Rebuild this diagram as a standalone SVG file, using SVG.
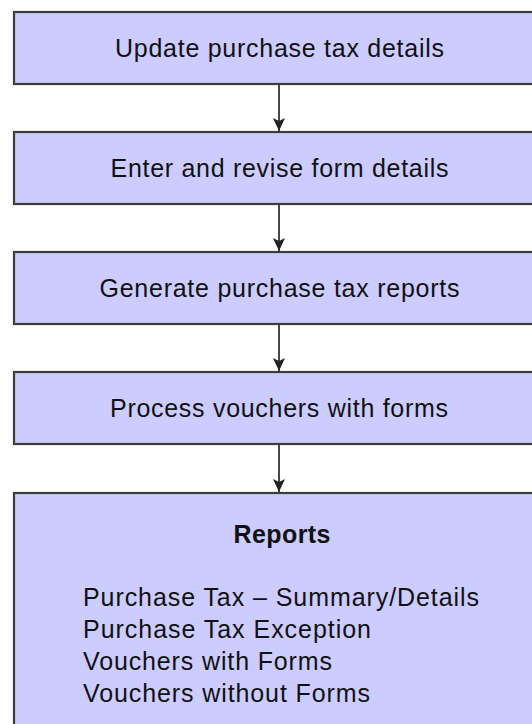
<svg xmlns="http://www.w3.org/2000/svg" width="532" height="724" viewBox="0 0 532 724">
  <style>
    .box { fill: #ccccff; stroke: #3c3c3c; stroke-width: 2.2; }
    .lbl { font-family: "Liberation Sans", Arial, sans-serif; font-size: 25px; fill: #111; }
    .mid { text-anchor: middle; }
    .bold { font-weight: bold; }
    .conn { stroke: #333; stroke-width: 1.8; fill: none; marker-end: url(#head); }
  </style>
  <defs>
    <marker id="head" viewBox="0 0 13 12" refX="13" refY="6" markerWidth="13" markerHeight="12" markerUnits="userSpaceOnUse" orient="auto">
      <path d="M0,0 L13,6 L0,12 L3,6 z" fill="#222"/>
    </marker>
  </defs>
  <rect width="532" height="724" fill="#ffffff"/>

  <g id="connectors">
    <line class="conn" x1="279" y1="84" x2="279" y2="131"/>
    <line class="conn" x1="279" y1="204" x2="279" y2="251"/>
    <line class="conn" x1="279" y1="324" x2="279" y2="371"/>
    <line class="conn" x1="279" y1="444" x2="279" y2="492"/>
  </g>

  <g id="update-details">
    <rect class="box" x="14" y="12" width="540" height="72"/>
    <text class="lbl mid" x="279.5" y="57" textLength="329" lengthAdjust="spacing">Update purchase tax details</text>
  </g>

  <g id="enter-form-details">
    <rect class="box" x="14" y="132" width="540" height="72"/>
    <text class="lbl mid" x="279.5" y="177" textLength="338" lengthAdjust="spacing">Enter and revise form details</text>
  </g>

  <g id="generate-reports">
    <rect class="box" x="14" y="252" width="540" height="72"/>
    <text class="lbl mid" x="279.5" y="297" textLength="360" lengthAdjust="spacing">Generate purchase tax reports</text>
  </g>

  <g id="process-vouchers">
    <rect class="box" x="14" y="372" width="540" height="72"/>
    <text class="lbl mid" x="279" y="417" textLength="338" lengthAdjust="spacing">Process vouchers with forms</text>
  </g>

  <g id="reports">
    <rect class="box" x="14" y="493" width="540" height="260"/>
    <text class="lbl mid bold" x="282" y="543" textLength="97" lengthAdjust="spacing">Reports</text>
    <text class="lbl" x="83" y="606" textLength="396" lengthAdjust="spacing">Purchase Tax – Summary/Details</text>
    <text class="lbl" x="83" y="638" textLength="288" lengthAdjust="spacing">Purchase Tax Exception</text>
    <text class="lbl" x="83" y="670" textLength="249" lengthAdjust="spacing">Vouchers with Forms</text>
    <text class="lbl" x="83" y="702" textLength="287" lengthAdjust="spacing">Vouchers without Forms</text>
  </g>
</svg>
